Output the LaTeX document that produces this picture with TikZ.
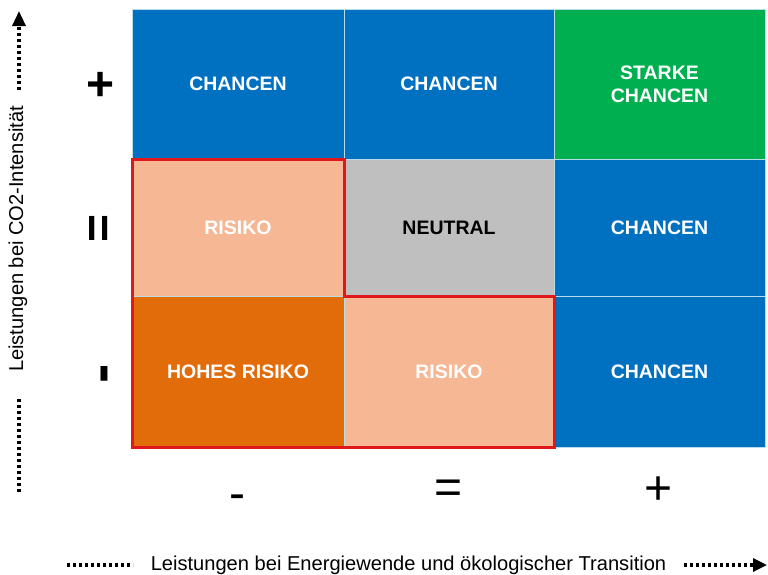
\documentclass[tikz,border=0pt]{standalone}
\usepackage{fontspec}
\setmainfont{Liberation Sans}
\usetikzlibrary{arrows.meta}
\definecolor{cblue}{HTML}{0070C0}
\definecolor{cgreen}{HTML}{00B050}
\definecolor{csalmon}{HTML}{F5B794}
\definecolor{corange}{HTML}{E36C0A}
\definecolor{cgray}{HTML}{BFBFBF}
\definecolor{cred}{HTML}{E0181B}
\definecolor{cline}{HTML}{B8DCE8}
\tikzset{
  cell/.style={draw=cline, line width=0.8pt, inner sep=0pt, outer sep=0pt,
    text=white, font=\fontsize{19.5}{23}\selectfont\bfseries, align=center},
  colw/.style={minimum width=#1pt},
  rowh/.style={minimum height=#1pt},
  ylab/.style={font=\fontsize{48}{50}\selectfont\bfseries, inner sep=0pt},
  xlab/.style={font=\fontsize{48}{50}\selectfont, inner sep=0pt},
  axtext/.style={font=\fontsize{20.1}{22}\selectfont, inner sep=0pt},
  dotaxis/.style={line width=3.2pt, dash pattern=on 3pt off 3pt},
  riskline/.style={draw=cred, line width=3pt, line join=miter},
}
\begin{document}
\begin{tikzpicture}[x=1pt,y=-1pt]
\useasboundingbox (0,0) rectangle (768,574);
% row 0 (y 9..159)
\node[cell, fill=cblue, colw=212, rowh=150] (r0c0) at (238,84) {CHANCEN};
\node[cell, fill=cblue, colw=210, rowh=150] (r0c1) at (449,84) {CHANCEN};
\node[cell, fill=cgreen, colw=211, rowh=150] (r0c2) at (659.5,84) {STARKE\\CHANCEN};
% row 1 (y 159..296)
\node[cell, fill=csalmon, colw=212, rowh=137] (r1c0) at (238,227.5) {RISIKO};
\node[cell, fill=cgray, text=black, colw=210, rowh=137] (r1c1) at (449,227.5) {NEUTRAL};
\node[cell, fill=cblue, colw=211, rowh=137] (r1c2) at (659.5,227.5) {CHANCEN};
% row 2 (y 296..447)
\node[cell, fill=corange, colw=212, rowh=151] (r2c0) at (238,371.5) {HOHES RISIKO};
\node[cell, fill=csalmon, colw=210, rowh=151] (r2c1) at (449,371.5) {RISIKO};
\node[cell, fill=cblue, colw=211, rowh=151] (r2c2) at (659.5,371.5) {CHANCEN};
% red outline of risk zone
\draw[riskline] (r1c0.north west) -- (r1c0.north east) -- (r1c0.south east)
  -- (r2c1.north east) -- (r2c1.south east) -- (r2c0.south west) -- cycle;
% row labels
\node[ylab] (lplus) at (100.5,86) {+};
\node[ylab, rotate=90] (leq) at (102.5,228) {=};
\node[ylab, rotate=90, font=\fontsize{58}{60}\selectfont\bfseries] (lminus) at (110,373.5) {-};
% column labels
\node[xlab] (bminus) at (237,502) {-};
\node[xlab] (beq) at (448.5,492) {=};
\node[xlab] (bplus) at (659,491) {+};
% vertical axis
\node[axtext, rotate=90] (ytxt) at (18,239) {Leistungen bei CO2-Intensität};
\coordinate (ya) at (19,492);
\coordinate (yb) at (19,398);
\coordinate (yc) at (19,90);
\coordinate (yd) at (19,11);
\draw[dotaxis] (ya) -- (yb);
\draw[dotaxis, -{Triangle[length=15pt,width=13pt]}] (yc) -- (yd);
% horizontal axis
\node[axtext] (xtxt) at (408.5,565) {Leistungen bei Energiewende und ökologischer Transition};
\coordinate (xa) at (67,565);
\coordinate (xb) at (133,565);
\coordinate (xc) at (684,565);
\coordinate (xd) at (767,565);
\draw[dotaxis] (xa) -- (xb);
\draw[dotaxis, -{Triangle[length=14pt,width=13pt]}] (xc) -- (xd);
\end{tikzpicture}
\end{document}
